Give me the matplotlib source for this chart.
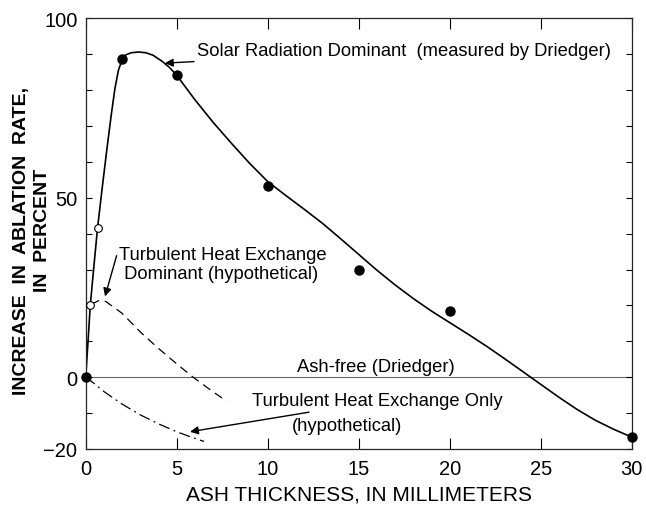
import numpy as np
from matplotlib import pyplot as plt

plt.rcParams.update({
    "font.family": ['Liberation Sans', 'DejaVu Sans'],
    "font.size": 13,
    "axes.linewidth": 0.9,
    "axes.edgecolor": '0.15',
})

# measured points (Driedger)
meas_x = [0, 2, 5, 10, 15, 20, 30]
meas_y = [0, 88.7, 84.1, 53.2, 29.9, 18.5, -16.7]

# open circles
open_x = [0.25, 0.65]
open_y = [20.0, 41.6]

# solar radiation dominant curve
solar_x = [0, 0.12, 0.25, 0.45, 0.65, 0.9, 1.15, 1.4, 1.6, 1.8, 2.0, 2.2, 2.5,
           2.9, 3.3, 3.7, 4.2, 4.6, 5.0, 5.5, 6, 7, 8, 9, 10, 11, 12, 13, 14,
           15, 16, 17, 18, 19, 20, 21, 22, 23, 24, 25, 26, 27, 28, 29, 30]
solar_y = [0, 9.5, 20, 31, 41.6, 52.5, 63, 73, 80.3, 85.6, 88.4, 89.8, 90.4,
           90.6, 90.4, 89.7, 88, 86.3, 84.1, 80.7, 77.3, 71.0, 65.2, 59.6,
           54.5, 50.6, 46.8, 42.9, 38.6, 34.2, 29.8, 25.7, 21.9, 18.4, 15.2,
           12.0, 8.7, 5.2, 1.6, -2.0, -5.6, -9.0, -12.0, -14.5, -16.7]

# turbulent heat exchange dominant (dashed)
turb_dom_x = [0.3, 0.7, 1.1, 2.0, 3.0, 4.0, 5.0, 5.9, 7.0, 7.75]
turb_dom_y = [20.3, 21.3, 21.1, 17.8, 12.6, 8.0, 3.7, 0, -4.1, -6.7]

# turbulent heat exchange only (dash-dot)
turb_only_x = [0, 0.4, 1, 2, 3, 4, 5, 5.8, 6.5]
turb_only_y = [0, -1.5, -4, -7.5, -10.5, -13, -15.2, -16.7, -17.9]

fig = plt.figure(figsize=(6.46, 5.06), dpi=100)
ax = fig.add_axes([0.1327, 0.1107, 0.8453, 0.8512])

ax.axhline(0, color='0.4', lw=0.8, zorder=1)
ax.plot(solar_x, solar_y, color='k', lw=1.2, zorder=2)
ax.plot(turb_dom_x, turb_dom_y, color='k', lw=0.9, dashes=(7, 4.5), zorder=2)
ax.plot(turb_only_x, turb_only_y, color='k', lw=0.9,
        dashes=(9, 3.5, 1.5, 3.5), zorder=2)
ax.plot(meas_x, meas_y, 'o', color='k', ms=6.5, zorder=3, clip_on=False)
ax.plot(open_x, open_y, 'o', mfc='white', mec='k', mew=0.8, ms=5.5, zorder=3)

ax.set_xlim(0, 30)
ax.set_ylim(-20, 100)
ax.set_xticks([0, 5, 10, 15, 20, 25, 30])
ax.set_yticks([-20, 0, 50, 100])
ax.set_yticklabels(['\u221220', '0', '50', '100'])
ax.set_yticks(np.arange(-10, 100, 10), minor=True)
ax.tick_params(axis='x', direction='in', length=8, width=0.8, top=True,
               labelsize=14.5, pad=7)
ax.tick_params(axis='y', which='both', direction='in', length=4, width=0.8,
               right=True, labelsize=14.5, pad=6)

ax.set_xlabel("ASH THICKNESS, IN MILLIMETERS", fontsize=15, labelpad=5)
# y label, two lines placed separately
fig.text(0.034, 0.524, "INCREASE  IN  ABLATION  RATE,", rotation=90,
         ha='center', va='center', fontsize=14, fontweight='bold')
fig.text(0.066, 0.545, "IN  PERCENT", rotation=90,
         ha='center', va='center', fontsize=14, fontweight='bold')

# annotations
fs = 13.2
ax.annotate("Solar Radiation Dominant  (measured by Driedger)",
            xy=(4.35, 87.5), xytext=(6.1, 91.0), fontsize=fs,
            ha='left', va='center',
            arrowprops=dict(arrowstyle='-|>', color='k', lw=1.0,
                            mutation_scale=12, shrinkA=0, shrinkB=0))
ax.annotate("Turbulent Heat Exchange\n Dominant (hypothetical)",
            xy=(1.06, 22.5), xytext=(1.85, 31.5), fontsize=fs,
            ha='left', va='center', linespacing=1.2,
            arrowprops=dict(arrowstyle='-|>', color='k', lw=1.0,
                            mutation_scale=12, shrinkA=0, shrinkB=0,
                            relpos=(0, 1)))
ax.text(11.6, 3.0, "Ash-free (Driedger)", fontsize=fs, ha='left', va='center')
ax.annotate("Turbulent Heat Exchange Only",
            xy=(5.73, -15.2), xytext=(9.15, -6.6), fontsize=fs,
            ha='left', va='center',
            arrowprops=dict(arrowstyle='-|>', color='k', lw=1.0,
                            mutation_scale=12, shrinkA=0, shrinkB=0))
ax.text(14.35, -13.5, "(hypothetical)", fontsize=fs, ha='center', va='center')

fig.savefig('out.png', dpi=100)
